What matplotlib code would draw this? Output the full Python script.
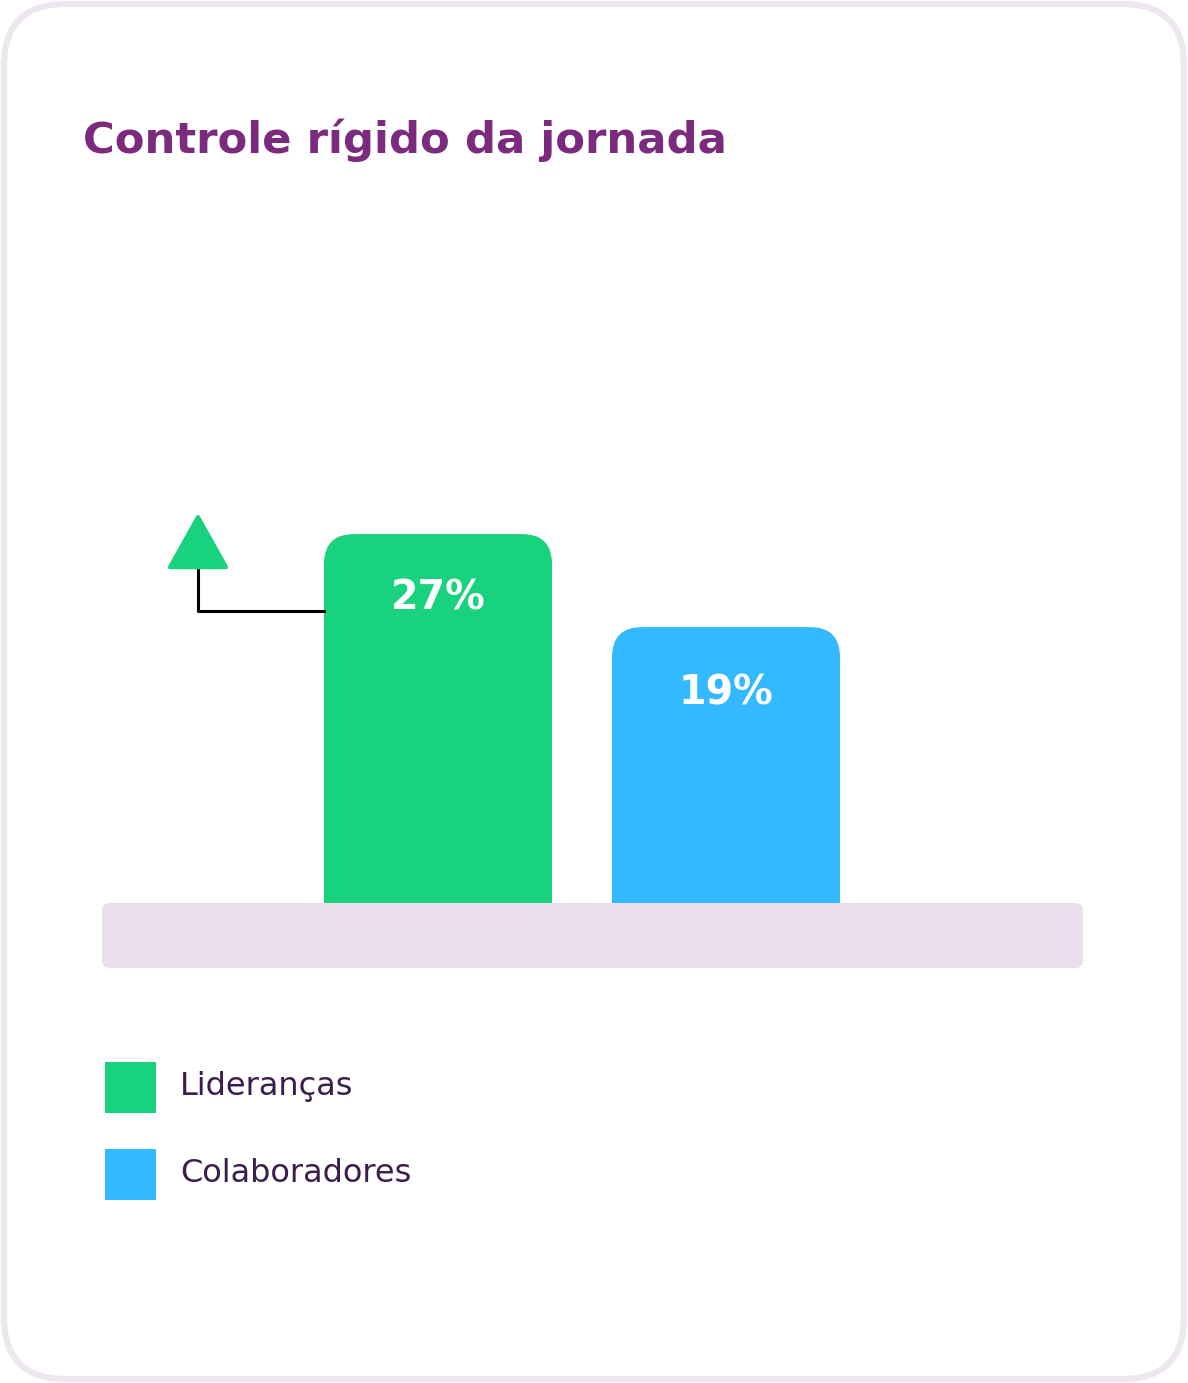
import matplotlib
matplotlib.use("Agg")
import matplotlib.pyplot as plt
from matplotlib.patches import FancyBboxPatch, Polygon, Rectangle
from matplotlib.lines import Line2D
from matplotlib.transforms import IdentityTransform

# ---- data ----
categories = ["Lideranças", "Colaboradores"]
values = [27, 19]
labels = ["27%", "19%"]
title = "Controle rígido da jornada"

colors = ["#18D27E", "#33B9FF"]
title_color = "#7B2A7E"
legend_text_color = "#3B1E4B"
band_color = "#EADFEC"
border_color = "#EFE7F0"

FONT = ["DejaVu Sans"]

W, H = 1188, 1383
fig = plt.figure(figsize=(W / 100, H / 100), dpi=100)
fig.patch.set_facecolor("white")

def px(x, y):
    """pixel (from top-left) -> figure fraction"""
    return x / W, 1 - y / H

# card border
card = FancyBboxPatch((4 / W, 4 / H), (W - 8) / W, (H - 8) / H,
                      boxstyle="round,pad=0,rounding_size=0.052",
                      mutation_aspect=W / H,
                      transform=fig.transFigure, facecolor="white",
                      edgecolor=border_color, linewidth=4.5, zorder=-5)
fig.patches.append(card)

# title
fig.text(*px(83, 140), title, fontsize=31.2, fontweight="bold", color=title_color,
         family=FONT, va="center", ha="left")

# axes area
ax_left, ax_right, ax_bottom, ax_top = 102, 1083, 903, 420
ax = fig.add_axes([ax_left / W, 1 - ax_bottom / H,
                   (ax_right - ax_left) / W, (ax_bottom - ax_top) / H])
ax.set_axis_off()
ax.patch.set_alpha(0)
ax.set_zorder(1)

xs = [0, 1]
xscale = 288.0          # px per x unit
yscale = 11.625         # px per value unit
zero_px = 848.0
ax.set_xlim(-(438 - ax_left) / xscale, (ax_right - 438) / xscale)
ax.set_ylim(-(ax_bottom - zero_px) / yscale, (zero_px - ax_top) / yscale)
ylo = ax.get_ylim()[0]

bw = 228 / xscale
r = 30 / xscale
offsets = [-46, -48]
for x, v, c, lab, off in zip(xs, values, colors, labels, offsets):
    patch = FancyBboxPatch((x - bw / 2, ylo - 5), bw, v - ylo + 5,
                           boxstyle=f"round,pad=0,rounding_size={r}",
                           mutation_aspect=xscale / yscale,
                           facecolor=c, edgecolor="none", zorder=2)
    ax.add_patch(patch)
    ax.annotate(lab, (x, v), xytext=(0, off), textcoords="offset points",
                ha="center", va="center", color="white", fontsize=28.5,
                fontweight="bold", family=FONT, zorder=3)

# baseline band
band = FancyBboxPatch((102, H - 968), 981, 65,
                      boxstyle="round,pad=0,rounding_size=8",
                      transform=IdentityTransform(), facecolor=band_color,
                      edgecolor="none", zorder=2)
fig.patches.append(band)

# increase indicator next to first bar
fig.canvas.draw()
bx, by = ax.transData.transform((xs[0] - bw / 2, values[0]))
lx = bx - 126
ly = by - 77
tri_base = ly + 43
line = Line2D([lx, lx, bx], [tri_base, ly, ly], color="black", linewidth=2.2,
              transform=IdentityTransform(), zorder=3)
fig.lines.append(line)
tri = Polygon([[lx - 28, tri_base + 1], [lx + 28, tri_base + 1], [lx, tri_base + 51]],
              closed=True, facecolor=colors[0], edgecolor=colors[0],
              linewidth=3, joinstyle="round", transform=IdentityTransform(), zorder=4)
fig.patches.append(tri)

# legend
for i, (name, c) in enumerate(zip(categories, colors)):
    y0 = 1062 + i * 87
    fig.patches.append(Rectangle((105, H - y0 - 51), 51, 51, facecolor=c,
                                 edgecolor="none", transform=IdentityTransform()))
    fig.text(*px(180, y0 + 25), name, fontsize=23, color=legend_text_color,
             family=FONT, va="center", ha="left")

fig.savefig("out.png", dpi=100, facecolor="white")
